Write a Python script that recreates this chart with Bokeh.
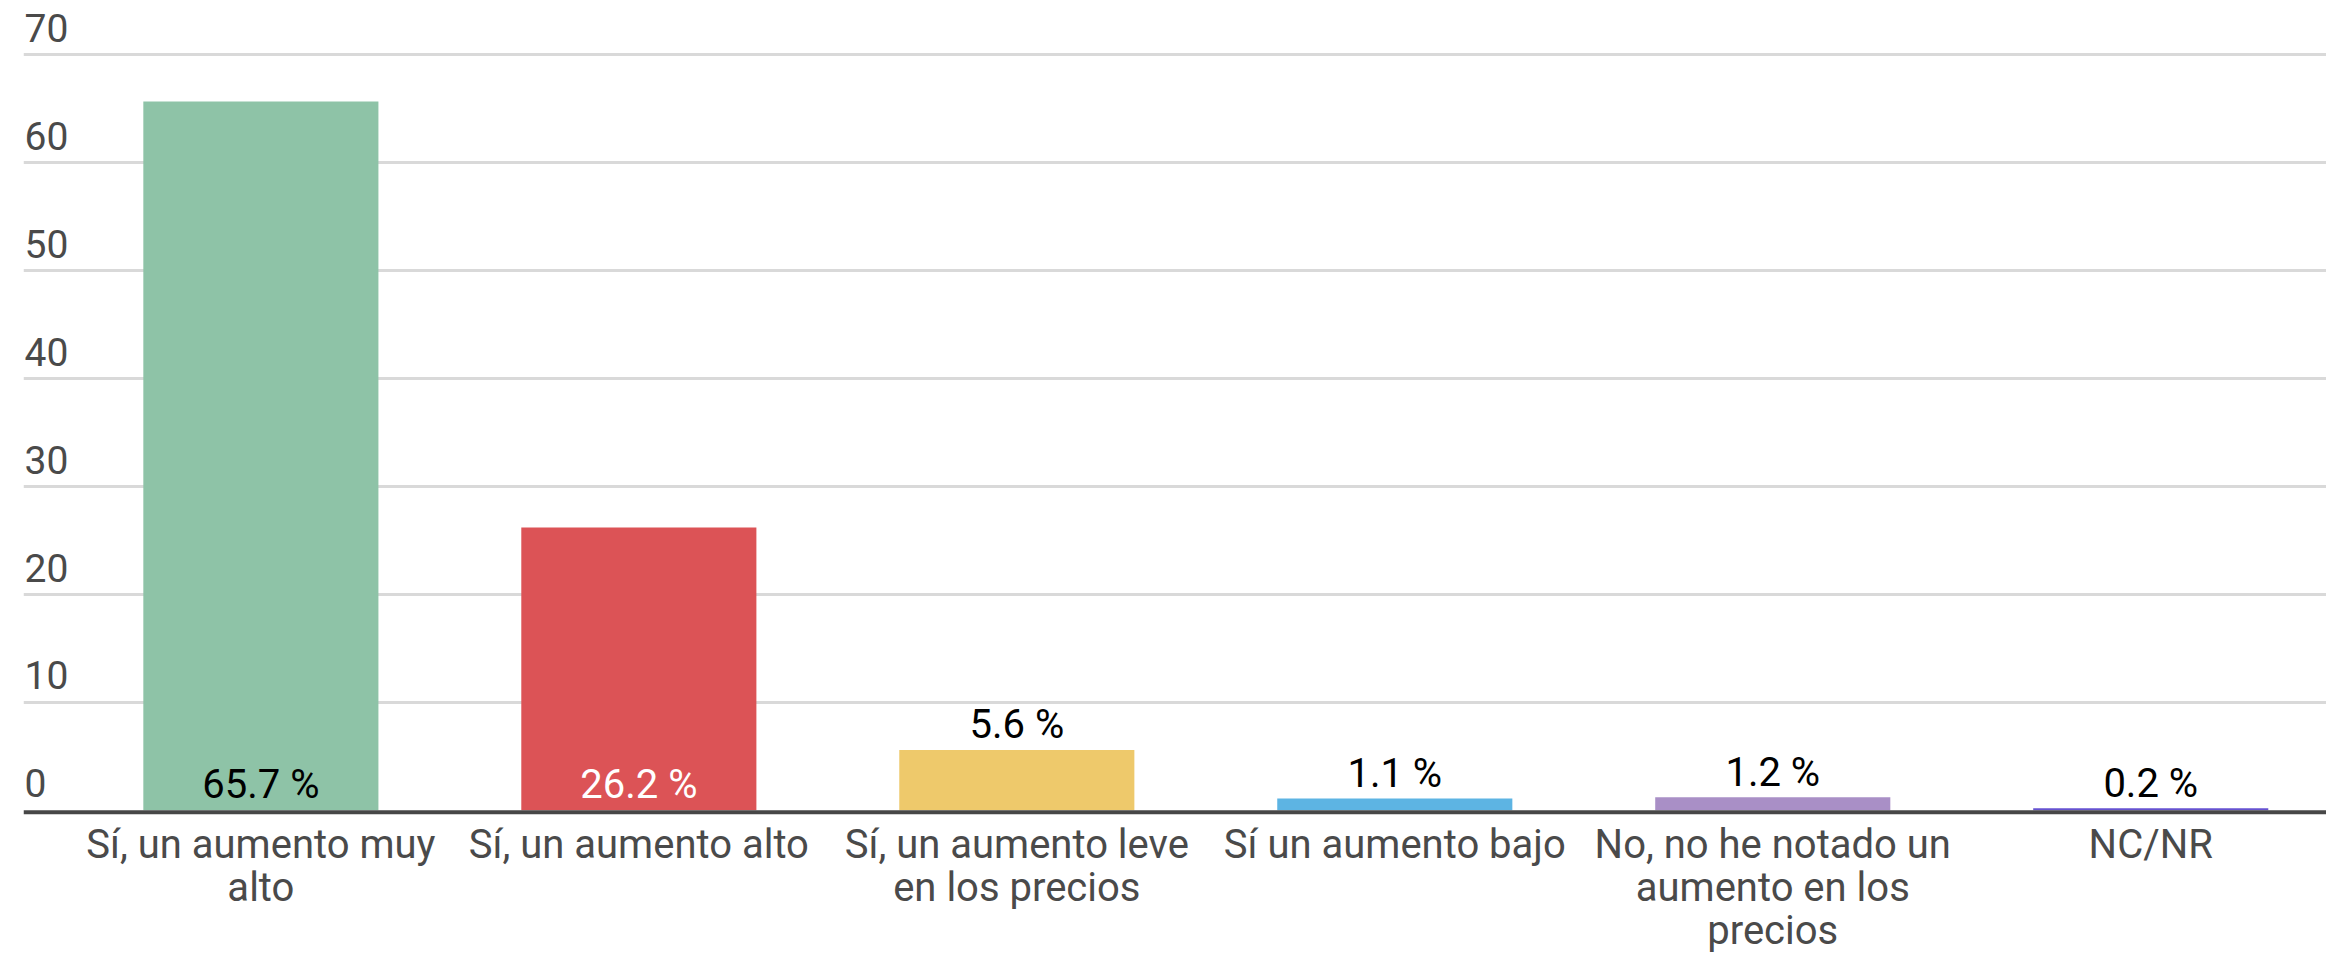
from bokeh.plotting import figure
from bokeh.models import Range1d, FixedTicker, ColumnDataSource, Span
from bokeh.core.properties import value
from bokeh.embed import file_html
from bokeh.resources import INLINE

# ---- data ----
categories = [
    "Sí, un aumento muy alto",
    "Sí, un aumento alto",
    "Sí, un aumento leve en los precios",
    "Sí un aumento bajo",
    "No, no he notado un aumento en los precios",
    "NC/NR",
]
category_labels = [
    "Sí, un aumento muy\nalto",
    "Sí, un aumento alto",
    "Sí, un aumento leve\nen los precios",
    "Sí un aumento bajo",
    "No, no he notado un\naumento en los\nprecios",
    "NC/NR",
]
percentages = [65.7, 26.2, 5.6, 1.1, 1.2, 0.2]
y_ticks = [0, 10, 20, 30, 40, 50, 60, 70]

# ---- styles ----
bar_colors = ["#8ec3a7", "#dc5356", "#eec96b", "#5db4e3", "#a98fc6", "#6652d1"]
value_label_colors = ["#000000", "#ffffff", "#000000", "#000000", "#000000", "#000000"]
FONT = "Roboto"
TEXT_GREY = "#4a4a4a"

PX_PER_UNIT = 10.79          # vertical scale of the reference
x_start, x_end = -0.628, 5.465
y_start, y_end = -13.27, 75.05

xs = list(range(len(categories)))
inside = [v >= 20 for v in percentages]
label_y = [0 if ins else v for ins, v in zip(inside, percentages)]
label_off = [-26 if ins else -25 for ins in inside]

src = ColumnDataSource(dict(
    x=xs,
    cat=categories,
    cat_label=category_labels,
    pct=percentages,
    color=bar_colors,
    label=[f"{v} %" for v in percentages],
    label_y=label_y,
    label_off=label_off,
    label_color=value_label_colors,
))

p = figure(
    width=2326, height=953,
    x_range=Range1d(x_start, x_end),
    y_range=Range1d(y_start, y_end),
    output_backend="svg",
    toolbar_location=None,
    min_border_left=23, min_border_right=0, min_border_top=0, min_border_bottom=0,
)
p.outline_line_color = None
p.background_fill_color = "white"
p.border_fill_color = "white"

# horizontal grid lines above zero
p.xgrid.visible = False
p.ygrid.ticker = FixedTicker(ticks=[t for t in y_ticks if t > 0])
p.ygrid.grid_line_color = "#d9d9d9"
p.ygrid.grid_line_width = 3

p.xaxis.visible = False
p.yaxis.visible = False

# bars
p.vbar(x="x", top="pct", bottom=0, width=0.622, source=src,
       fill_color="color", line_color=None)

# baseline (dark axis line just under zero)
p.add_layout(Span(location=-2 / PX_PER_UNIT, dimension="width",
                  line_color="#474747", line_width=4))

# value labels
p.text(x="x", y="label_y", text="label", source=src,
       y_offset="label_off", text_align="center", text_baseline="alphabetic",
       text_font=value(FONT), text_font_size="40px", text_color="label_color")

# category labels under the baseline
p.text(x="x", y=0, text="cat_label", source=src,
       y_offset=11, text_align="center", text_baseline="top",
       text_line_height=0.91,
       text_font=value(FONT), text_font_size="40px", text_color=TEXT_GREY)

# y tick labels above gridlines
p.text(x=[x_start] * len(y_ticks), y=y_ticks, text=[str(t) for t in y_ticks],
       x_offset=1, y_offset=-27, text_align="left", text_baseline="alphabetic",
       text_font=value(FONT), text_font_size="39px", text_color=TEXT_GREY)

open("out.html", "w").write(file_html(p, INLINE))
